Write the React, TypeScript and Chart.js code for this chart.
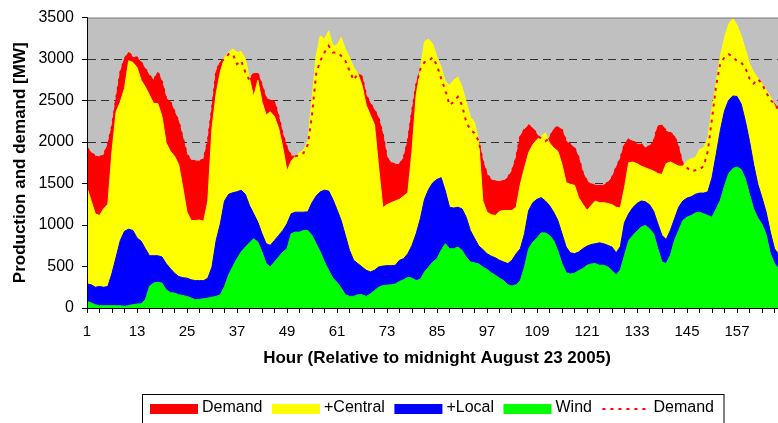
import { useEffect, useRef } from "react";
import { Chart, registerables } from "chart.js";

Chart.register(...registerables);

const FONT = '"Liberation Sans", Arial, sans-serif';

// Hour index (relative to midnight August 23 2005)
const hours: number[] = Array.from({ length: 167 }, (_, i) => i + 1);

// Tick labels shown on the hour axis
const hourTickLabels: number[] = [1, 13, 25, 37, 49, 61, 73, 85, 97, 109, 121, 133, 145, 157];

// Demand [MW]
const demand: number[] = [
  1930, 1870, 1830, 1820, 1840, 1970, 2190, 2525, 2840, 3000, 3080, 3020, 3020, 2960, 2880, 2800, 2745, 2840, 2725, 2525,
  2485, 2365, 2245, 2050, 1850, 1780, 1770, 1770, 1790, 2010, 2405, 2845, 2965, 3000, 3060, 3060, 2940, 2980, 2840, 2745,
  2825, 2825, 2685, 2525, 2505, 2485, 2305, 2090, 1930, 1830, 1830, 1840, 1870, 1970, 2325, 2825, 2980, 3080, 3160, 3080,
  3080, 3040, 2980, 2860, 2745, 2825, 2785, 2565, 2465, 2385, 2285, 2090, 1810, 1750, 1730, 1730, 1810, 2010, 2365, 2685,
  2880, 2965, 2980, 3020, 2920, 2765, 2625, 2445, 2485, 2545, 2445, 2245, 2145, 2110, 2010, 1770, 1610, 1545, 1525, 1525,
  1530, 1570, 1650, 1810, 2070, 2150, 2200, 2165, 2090, 2040, 2010, 2050, 2150, 2185, 2145, 2010, 1970, 1930, 1810, 1630,
  1530, 1490, 1480, 1470, 1480, 1510, 1570, 1690, 1800, 1970, 2030, 2010, 1975, 1970, 1930, 1950, 2010, 2185, 2205, 2130,
  2110, 2070, 1930, 1730, 1690, 1650, 1660, 1670, 1710, 1890, 2285, 2685, 2950, 3020, 3060, 3030, 2975, 2960, 2895, 2765,
  2705, 2760, 2700, 2600, 2505, 2465, 2385,
];

// Wind + Local + Central production [MW]
const central: number[] = [
  1450, 1290, 1135, 1115, 1195, 1250, 1890, 2365, 2485, 2645, 2980, 2960, 2900, 2745, 2665, 2565, 2465, 2465, 2305, 1990,
  1890, 1830, 1730, 1450, 1155, 1055, 1055, 1060, 1045, 1290, 2165, 2585, 2845, 3020, 3080, 3120, 3080, 3090, 3000, 2765,
  2545, 2745, 2485, 2325, 2365, 2305, 2165, 1930, 1650, 1770, 1830, 1870, 1910, 2010, 2525, 3040, 3280, 3240, 3340, 3160,
  3170, 3260, 3120, 3020, 2900, 2825, 2685, 2445, 2325, 2210, 1690, 1210, 1245, 1270, 1290, 1310, 1350, 1390, 1890, 2565,
  2880, 3210, 3240, 3180, 3020, 2900, 2725, 2685, 2745, 2785, 2665, 2485, 2300, 2240, 2010, 1290, 1155, 1125, 1115, 1165,
  1175, 1175, 1175, 1215, 1490, 1690, 1870, 1970, 2030, 2070, 2110, 1990, 1930, 1890, 1730, 1510, 1490, 1480, 1330, 1250,
  1175, 1235, 1290, 1270, 1270, 1260, 1245, 1215, 1205, 1450, 1750, 1760, 1740, 1710, 1690, 1670, 1650, 1620, 1610, 1740,
  1760, 1735, 1710, 1710, 1770, 1800, 1810, 1910, 1930, 2050, 2405, 2725, 3030, 3260, 3420, 3490, 3410, 3280, 3120, 2945,
  2845, 2770, 2705, 2625, 2545, 2445, 2370,
];

// Wind + Local production [MW]
const local: number[] = [
  290, 280, 250, 260, 250, 260, 420, 615, 815, 925, 950, 935, 845, 805, 715, 630, 630, 630, 615, 535,
  475, 420, 380, 365, 360, 340, 330, 330, 330, 360, 495, 815, 1015, 1290, 1370, 1390, 1400, 1420, 1370, 1235,
  1135, 1035, 895, 775, 755, 815, 875, 935, 1015, 1135, 1155, 1155, 1155, 1160, 1270, 1350, 1400, 1420, 1410, 1310,
  1185, 1055, 875, 695, 575, 535, 495, 455, 435, 455, 495, 505, 510, 510, 515, 575, 595, 655, 755, 895,
  1075, 1310, 1430, 1510, 1550, 1570, 1410, 1215, 1205, 1215, 1195, 1095, 935, 840, 750, 705, 655, 625, 605, 575,
  555, 535, 575, 655, 715, 895, 1175, 1270, 1310, 1330, 1290, 1235, 1155, 1055, 895, 735, 665, 655, 675, 715,
  745, 765, 775, 785, 775, 755, 735, 665, 740, 1030, 1135, 1210, 1260, 1290, 1280, 1245, 1165, 1015, 875, 825,
  935, 1075, 1215, 1290, 1325, 1340, 1370, 1385, 1385, 1400, 1570, 1850, 2140, 2375, 2505, 2555, 2550, 2460, 2255, 2010,
  1730, 1490, 1330, 1155, 915, 715, 645,
];

// Wind production [MW]
const wind: number[] = [
  80, 60, 40, 28, 28, 28, 28, 28, 28, 20, 28, 40, 48, 50, 100, 260, 300, 310, 300, 220,
  185, 180, 160, 150, 140, 120, 100, 105, 110, 120, 130, 140, 160, 260, 400, 500, 595, 675, 735, 785,
  835, 795, 675, 535, 495, 555, 615, 675, 715, 895, 915, 915, 935, 935, 875, 775, 675, 555, 455, 360,
  310, 240, 160, 140, 140, 160, 160, 140, 170, 210, 250, 270, 275, 280, 290, 320, 340, 370, 360, 330,
  345, 435, 495, 555, 595, 695, 775, 715, 715, 735, 695, 615, 555, 545, 530, 495, 465, 425, 395, 360,
  330, 280, 265, 280, 330, 495, 715, 795, 845, 905, 905, 875, 815, 690, 535, 425, 410, 420, 450, 475,
  515, 530, 535, 515, 515, 495, 450, 400, 460, 635, 810, 875, 925, 975, 995, 955, 895, 715, 555, 535,
  635, 815, 935, 1055, 1095, 1115, 1145, 1155, 1135, 1115, 1095, 1195, 1300, 1470, 1620, 1680, 1700, 1670, 1560, 1370,
  1195, 1085, 1010, 885, 655, 535, 470,
];

const legendLabels: string[] = ["Demand", "+Central", "+Local", "Wind", "Demand"];
const seriesColors: string[] = ["#FF0000", "#FFFF00", "#0000FF", "#00FF00", "#FF0000"];

const plotBackground = {
  id: "plotBackground",
  beforeDraw(chart: any) {
    const { ctx, chartArea } = chart;
    ctx.save();
    ctx.fillStyle = "#C0C0C0";
    ctx.fillRect(chartArea.left, chartArea.top, chartArea.right - chartArea.left, chartArea.bottom - chartArea.top);
    ctx.restore();
  },
  afterDatasetsDraw(chart: any) {
    const { ctx, chartArea } = chart;
    ctx.save();
    ctx.strokeStyle = "#808080";
    ctx.lineWidth = 1;
    ctx.beginPath();
    ctx.moveTo(chartArea.left, chartArea.top + 0.5);
    ctx.lineTo(chartArea.right, chartArea.top + 0.5);
    ctx.lineTo(chartArea.right - 0.5, chartArea.bottom);
    ctx.stroke();
    ctx.restore();
  },
};

const boxedLegend = {
  id: "boxedLegend",
  afterDraw(chart: any) {
    const ctx: CanvasRenderingContext2D = chart.ctx;
    ctx.save();
    ctx.strokeStyle = "#000";
    ctx.lineWidth = 1;
    ctx.strokeRect(142.5, 394.5, 581.5, 40);
    ctx.font = `16px ${FONT}`;
    ctx.textBaseline = "middle";
    ctx.textAlign = "left";
    let x = 150;
    legendLabels.forEach((label, i) => {
      if (i < 4) {
        ctx.fillStyle = seriesColors[i];
        ctx.fillRect(x, 404, 48, 10);
      } else {
        ctx.save();
        ctx.strokeStyle = seriesColors[i];
        ctx.lineWidth = 2;
        ctx.setLineDash([3, 5]);
        ctx.beginPath();
        ctx.moveTo(x + 1, 409);
        ctx.lineTo(x + 48, 409);
        ctx.stroke();
        ctx.restore();
      }
      x += 52;
      ctx.fillStyle = "#000";
      ctx.fillText(label, x, 408);
      x += ctx.measureText(label).width + 9.5;
    });
    ctx.restore();
  },
};

export default function App() {
  const canvasRef = useRef<HTMLCanvasElement | null>(null);

  useEffect(() => {
    if (!canvasRef.current) return;
    Chart.defaults.font.family = FONT;
    const area = (label: string, data: number[], color: string, order: number) => ({
      label,
      data,
      backgroundColor: color,
      borderColor: color,
      borderWidth: 1,
      fill: "origin",
      pointRadius: 0,
      tension: 0,
      order,
    });
    const chart = new Chart(canvasRef.current, {
      type: "line",
      data: {
        labels: hours,
        datasets: [
          {
            label: legendLabels[4],
            data: demand,
            borderColor: seriesColors[4],
            borderWidth: 2,
            borderDash: [3, 5],
            fill: false,
            pointRadius: 0,
            tension: 0,
            order: 0,
          },
          area(legendLabels[3], wind, seriesColors[3], 1),
          area(legendLabels[2], local, seriesColors[2], 2),
          area(legendLabels[1], central, seriesColors[1], 3),
          area(legendLabels[0], demand, seriesColors[0], 4),
        ] as any,
      },
      options: {
        animation: false,
        responsive: false,
        layout: { padding: { left: 0, top: 15, right: 13, bottom: 0 } },
        plugins: { legend: { display: false }, tooltip: { enabled: false } },
        scales: {
          x: {
            type: "linear",
            min: 1,
            max: 169,
            afterFit: (s: any) => {
              s.height = 115;
            },
            ticks: {
              stepSize: 3,
              autoSkip: false,
              maxRotation: 0,
              minRotation: 0,
              padding: 10,
              color: "#000",
              font: { family: FONT, size: 15 },
              callback: (v: any) => (hourTickLabels.includes(Number(v)) ? String(v) : ""),
            },
            grid: {
              drawOnChartArea: false,
              drawTicks: true,
              tickLength: 5,
              color: "#000",
              tickColor: "#000",
            },
            border: { display: true, color: "#000", width: 1, z: 1 },
            title: {
              display: true,
              text: "Hour (Relative to midnight August 23 2005)",
              color: "#000",
              font: { family: FONT, size: 17, weight: "bold" },
              padding: { top: 0, bottom: 54 },
            },
          },
          y: {
            min: 0,
            max: 3500,
            afterFit: (s: any) => {
              s.width = 87;
            },
            ticks: {
              stepSize: 500,
              padding: 8,
              color: "#000",
              font: { family: FONT, size: 16 },
              callback: (v: any) => String(v),
            },
            grid: {
              drawTicks: true,
              tickLength: 5,
              tickColor: "#000",
              color: (c: any) =>
                c.tick && (c.tick.value === 0 || c.tick.value === 3500) ? "rgba(0,0,0,0)" : "#303030",
            },
            border: { display: true, color: "#000", width: 1, dash: [8, 5], z: 1 },
            title: {
              display: true,
              text: "Production and demand [MW]",
              color: "#000",
              font: { family: FONT, size: 17, weight: "bold" },
              padding: { top: 10, bottom: 0 },
            },
          },
        },
      } as any,
      plugins: [plotBackground, boxedLegend],
    });
    return () => chart.destroy();
  }, []);

  return (
    <div
      style={{
        position: "fixed",
        left: 0,
        top: 0,
        width: 778,
        height: 423,
        overflow: "hidden",
        background: "#fff",
      }}
    >
      <canvas ref={canvasRef} width={800} height={423} style={{ display: "block" }} />
    </div>
  );
}
